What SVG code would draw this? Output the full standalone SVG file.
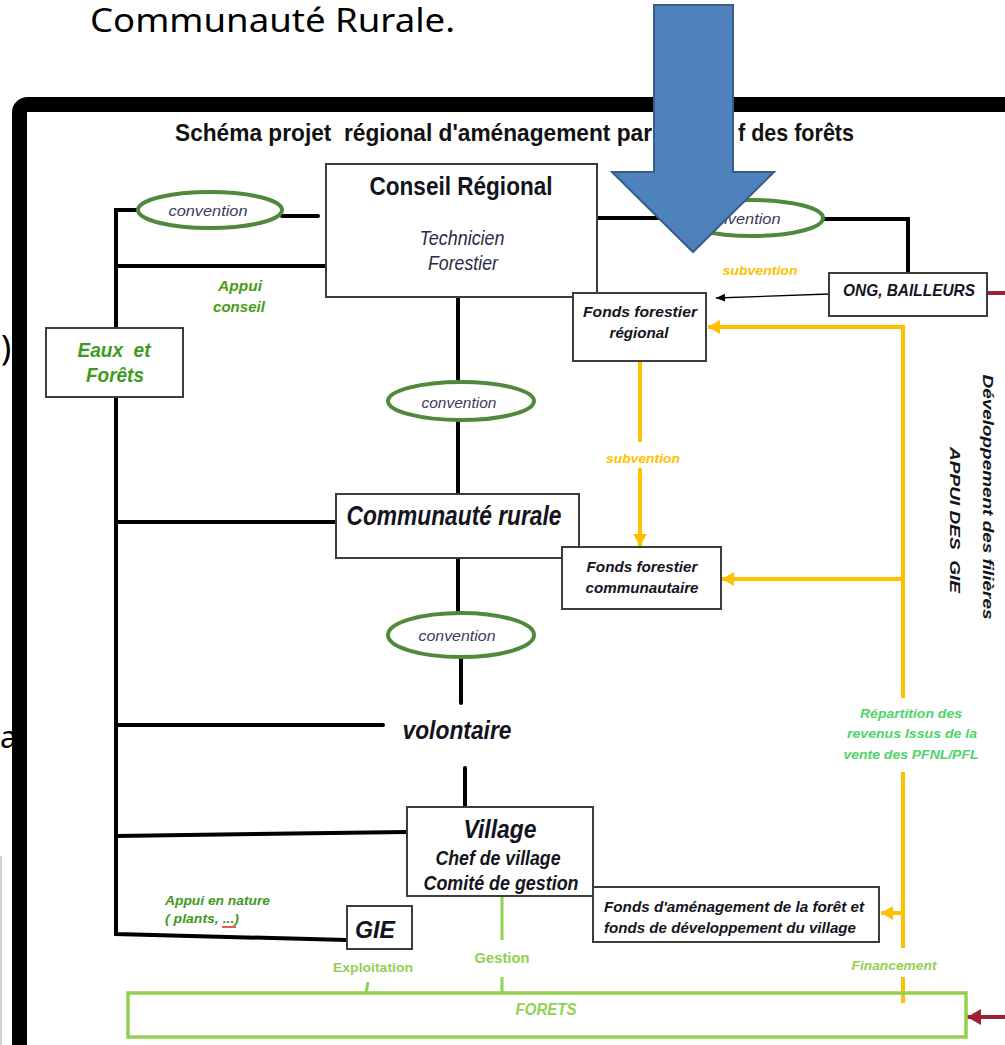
<svg xmlns="http://www.w3.org/2000/svg" width="1005" height="1045" viewBox="0 0 1005 1045">
<style>
text{font-family:"Liberation Sans Narrow","Liberation Sans",Arial,sans-serif;}
.bx{fill:#fff;stroke:#3c3c3c;stroke-width:2;}
.ell{fill:#fff;stroke:#4f8a3c;stroke-width:4;}
.k{fill:none;stroke:#000;stroke-width:4;stroke-linecap:round;}
.y{fill:none;stroke:#ffc000;stroke-width:4;}
.g{fill:none;stroke:#92d050;stroke-width:3;}
.r{fill:none;stroke:#9b2335;stroke-width:4;}
.bi{font-weight:bold;font-style:italic;fill:#141420;}
.cv{font-style:italic;fill:#3a3a5a;font-size:15px;text-anchor:middle;}
.ag{font-weight:bold;font-style:italic;fill:#3e9a1e;}
.yl{font-style:italic;font-weight:bold;fill:#ffc000;font-size:13px;text-anchor:middle;}
.lg{font-weight:bold;fill:#92d050;text-anchor:middle;}
.c{text-anchor:middle;}
.bg{font-family:"Noto Sans","Liberation Sans",Arial,sans-serif;fill:#000;}
</style>
<defs>
<marker id="ay" markerUnits="userSpaceOnUse" markerWidth="14" markerHeight="14" refX="12" refY="7" orient="auto"><path d="M0,0 L12,7 L0,14 Z" fill="#ffc000"/></marker>
<marker id="ak" markerUnits="userSpaceOnUse" markerWidth="10" markerHeight="10" refX="9" refY="5" orient="auto"><path d="M0,1 L9,5 L0,9 Z" fill="#000"/></marker>
<marker id="ar" markerUnits="userSpaceOnUse" markerWidth="16" markerHeight="16" refX="14" refY="8" orient="auto"><path d="M0,0 L14,8 L0,16 Z" fill="#9b2335"/></marker>
</defs>
<rect width="1005" height="1045" fill="#fff"/>
<!-- slide background text -->
<text class="bg" x="90" y="32" font-size="32" textLength="365" lengthAdjust="spacingAndGlyphs">Communauté Rurale.</text>
<text class="bg" x="1" y="360" font-size="34">)</text>
<text class="bg" x="0" y="748" font-size="30">a</text>
<line x1="1" y1="856" x2="1" y2="1045" stroke="#cfcfcf" stroke-width="2"/>
<!-- frame -->
<rect x="19.5" y="104.5" width="1100" height="1000" rx="8" fill="#fff" stroke="#000" stroke-width="15"/>
<!-- title -->
<text xml:space="preserve" x="175" y="141" font-size="24" font-weight="bold" textLength="477" lengthAdjust="spacingAndGlyphs" fill="#111">Schéma projet  régional d'aménagement par</text>
<text x="738" y="141" font-size="24" font-weight="bold" textLength="116" lengthAdjust="spacingAndGlyphs" fill="#111">f des forêts</text>

<g id="connectors">
<path class="k" d="M138 210 H116 V934 L347 940"/>
<path class="k" d="M282 216 H318"/>
<path class="k" d="M116 266 H326"/>
<path class="k" d="M116 522 H336"/>
<path class="k" d="M116 725 H383"/>
<path class="k" d="M116 836 L407 832"/>
<path class="k" d="M597 218 H681"/>
<path class="k" d="M823 219 H908 V272" stroke-linecap="butt"/>
<path class="k" d="M458 297 V382"/>
<path class="k" d="M458 420 V494"/>
<path class="k" d="M458 558 V613"/>
<path class="k" d="M461 657 V703"/>
<path class="k" d="M465 768 V807"/>
<path d="M829 294 L716 298" stroke="#000" stroke-width="1.3" fill="none" marker-end="url(#ak)"/>
<path class="y" d="M903 1003 V977"/>
<path class="y" d="M903 948 V772"/>
<path class="y" d="M903 698 V327 H708" marker-end="url(#ay)"/>
<path class="y" d="M903 579 H722" marker-end="url(#ay)"/>
<path class="y" d="M903 913 H881" marker-end="url(#ay)"/>
<path class="y" d="M640 361 V442"/>
<path class="y" d="M640 468 V546" marker-end="url(#ay)"/>
<path class="g" d="M502 896 V940"/>
<path class="g" d="M502 977 V993"/>
<path class="g" d="M368 982 L366 993"/>
<path class="r" d="M987 293 H1005"/>
<path class="r" d="M1005 1017 H967" marker-end="url(#ar)"/>
</g>

<g id="lbl-appui-conseil">
<text class="ag c" x="240" y="291" font-size="15" textLength="44" lengthAdjust="spacingAndGlyphs" style="fill:#4a9a14">Appui</text>
<text class="ag c" x="239" y="312" font-size="15" textLength="52" lengthAdjust="spacingAndGlyphs" style="fill:#4a9a14">conseil</text>
</g>
<g id="lbl-subvention-1"><text class="yl" x="760" y="275" textLength="75" lengthAdjust="spacingAndGlyphs">subvention</text></g>
<g id="lbl-subvention-2"><text class="yl" x="643" y="463" textLength="74" lengthAdjust="spacingAndGlyphs">subvention</text></g>
<g id="lbl-repartition" style="font-style:italic;font-weight:bold;font-size:13px;fill:#4dd46a;text-anchor:middle">
<text x="911" y="718" textLength="102" lengthAdjust="spacingAndGlyphs">Répartition des</text>
<text x="912" y="738" textLength="130" lengthAdjust="spacingAndGlyphs">revenus Issus de la</text>
<text x="911" y="759" textLength="135" lengthAdjust="spacingAndGlyphs">vente des PFNL/PFL</text>
</g>
<g id="lbl-appui-nature">
<text class="ag" x="165" y="905" font-size="13" textLength="105" lengthAdjust="spacingAndGlyphs">Appui en nature</text>
<text class="ag" x="165" y="923" font-size="13" textLength="74" lengthAdjust="spacingAndGlyphs">( plants, ...)</text>
<path d="M222 927 H236" stroke="#e02020" stroke-width="1.5"/>
</g>
<g id="lbl-exploitation"><text class="lg" x="373" y="972" font-size="13" textLength="80" lengthAdjust="spacingAndGlyphs">Exploitation</text></g>
<g id="lbl-gestion"><text class="lg" x="502" y="963" font-size="15" textLength="55" lengthAdjust="spacingAndGlyphs">Gestion</text></g>
<g id="lbl-financement"><text class="lg" x="894" y="970" font-size="13" font-style="italic" font-weight="normal" textLength="85" lengthAdjust="spacingAndGlyphs">Financement</text></g>
<g id="lbl-vertical" class="bi" font-size="14">
<text class="c" transform="translate(983,497) rotate(90)" textLength="245" lengthAdjust="spacingAndGlyphs">Développement des filières</text>
<text class="c" xml:space="preserve" transform="translate(950,520) rotate(90)" textLength="146" lengthAdjust="spacingAndGlyphs">APPUI DES  GIE</text>
</g>

<g id="conv-1"><ellipse class="ell" cx="210" cy="210" rx="72" ry="18"/><text class="cv" x="208" y="216" textLength="79" lengthAdjust="spacingAndGlyphs">convention</text></g>
<g id="conv-2"><ellipse class="ell" cx="752" cy="218" rx="71" ry="18"/><text class="cv" x="741" y="224" textLength="79" lengthAdjust="spacingAndGlyphs">convention</text></g>
<g id="conv-3"><ellipse class="ell" cx="461" cy="401" rx="73" ry="19"/><text class="cv" x="459" y="408" textLength="75" lengthAdjust="spacingAndGlyphs">convention</text></g>
<g id="conv-4"><ellipse class="ell" cx="461" cy="635" rx="73" ry="22"/><text class="cv" x="457" y="641" textLength="77" lengthAdjust="spacingAndGlyphs">convention</text></g>

<g id="conseil-regional">
<rect class="bx" x="326" y="164" width="271" height="133"/>
<text class="c" x="461" y="195" font-size="26" font-weight="bold" fill="#141420" textLength="183" lengthAdjust="spacingAndGlyphs">Conseil Régional</text>
<text class="c" x="462" y="245" font-size="20" font-style="italic" fill="#2a2a44" textLength="85" lengthAdjust="spacingAndGlyphs">Technicien</text>
<text class="c" x="463" y="270" font-size="20" font-style="italic" fill="#2a2a44" textLength="70" lengthAdjust="spacingAndGlyphs">Forestier</text>
</g>
<g id="eaux-forets">
<rect class="bx" x="46" y="328" width="137" height="69"/>
<text class="ag c" xml:space="preserve" x="114" y="357" font-size="20" textLength="73" lengthAdjust="spacingAndGlyphs">Eaux  et</text>
<text class="ag c" x="115" y="382" font-size="20" textLength="58" lengthAdjust="spacingAndGlyphs">Forêts</text>
</g>
<g id="ong-bailleurs">
<rect class="bx" x="829" y="273" width="158" height="43"/>
<text class="bi c" x="909" y="296" font-size="16" textLength="132" lengthAdjust="spacingAndGlyphs">ONG, BAILLEURS</text>
</g>
<g id="fonds-regional">
<rect class="bx" x="573" y="293" width="133" height="68"/>
<text class="bi c" x="640" y="317" font-size="15" textLength="114" lengthAdjust="spacingAndGlyphs">Fonds forestier</text>
<text class="bi c" x="639" y="338" font-size="15" textLength="59" lengthAdjust="spacingAndGlyphs">régional</text>
</g>
<g id="communaute-rurale">
<rect class="bx" x="336" y="494" width="243" height="64"/>
<text class="bi c" x="454" y="525" font-size="27" textLength="215" lengthAdjust="spacingAndGlyphs">Communauté rurale</text>
</g>
<g id="fonds-communautaire">
<rect class="bx" x="562" y="547" width="159" height="62"/>
<text class="bi c" x="642" y="572" font-size="15" textLength="111" lengthAdjust="spacingAndGlyphs">Fonds forestier</text>
<text class="bi c" x="642" y="593" font-size="15" textLength="113" lengthAdjust="spacingAndGlyphs">communautaire</text>
</g>
<g id="volontaire">
<text class="bi c" x="457" y="739" font-size="26" textLength="109" lengthAdjust="spacingAndGlyphs">volontaire</text>
</g>
<g id="village">
<rect class="bx" x="407" y="807" width="186" height="89"/>
<text class="bi c" x="500" y="838" font-size="26" textLength="73" lengthAdjust="spacingAndGlyphs">Village</text>
<text class="bi c" x="498" y="865" font-size="20" textLength="125" lengthAdjust="spacingAndGlyphs">Chef de village</text>
<text class="bi c" x="501" y="890" font-size="20" textLength="155" lengthAdjust="spacingAndGlyphs">Comité de gestion</text>
</g>
<g id="fonds-amenagement">
<rect class="bx" x="593" y="887" width="286" height="55"/>
<text class="bi" x="604" y="912" font-size="15" textLength="260" lengthAdjust="spacingAndGlyphs">Fonds d'aménagement de la forêt et</text>
<text class="bi" x="604" y="933" font-size="15" textLength="252" lengthAdjust="spacingAndGlyphs">fonds de développement du village</text>
</g>
<g id="gie">
<rect class="bx" x="347" y="906" width="65" height="43"/>
<text class="bi c" x="375" y="938" font-size="24" textLength="40" lengthAdjust="spacingAndGlyphs">GIE</text>
</g>
<g id="forets">
<rect x="128" y="993" width="838" height="44" fill="none" stroke="#92d050" stroke-width="3.5"/>
<text class="lg" x="546" y="1015" font-size="16" font-style="italic" textLength="61" lengthAdjust="spacingAndGlyphs">FORETS</text>
</g>
<g id="blue-arrow">
<polygon points="654,5 733,5 733,172 774,172 693,252 612,172 654,172" fill="#4f81bd" stroke="#385d8a" stroke-width="2"/>
</g>
</svg>
